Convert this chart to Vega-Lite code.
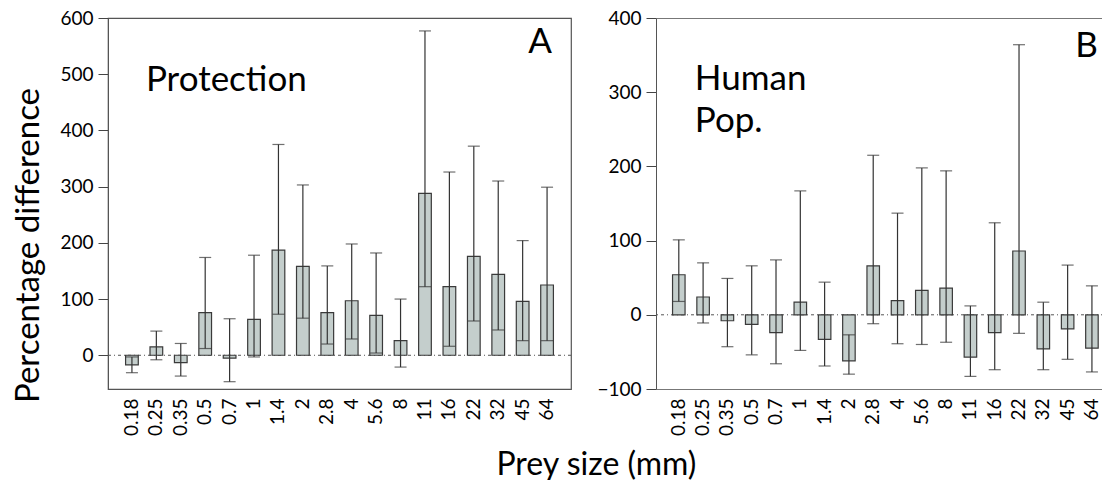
{
  "$schema": "https://vega.github.io/schema/vega-lite/v6.json",
  "background": "white",
  "padding": {"left": 12, "top": 8, "right": 0, "bottom": 2},
  "config": {
    "font": "Lato",
    "view": {"stroke": "#555", "strokeWidth": 1.2},
    "axis": {
      "labelFont": "Lato", "labelFontSize": 19, "labelColor": "#000",
      "titleFont": "Lato", "titleFontWeight": "normal", "titleColor": "#000",
      "tickColor": "#444", "domainColor": "#555", "grid": false
    }
  },
  "datasets": {
    "A": [
      {"size": "0.18", "mean": -17, "lo": -31, "hi": -3},
      {"size": "0.25", "mean": 15, "lo": -8, "hi": 43},
      {"size": "0.35", "mean": -13, "lo": -37, "hi": 21},
      {"size": "0.5", "mean": 76, "lo": 12, "hi": 174},
      {"size": "0.7", "mean": -5, "lo": -47, "hi": 65},
      {"size": "1", "mean": 64, "lo": -3, "hi": 178},
      {"size": "1.4", "mean": 187, "lo": 73, "hi": 375},
      {"size": "2", "mean": 158, "lo": 66, "hi": 303},
      {"size": "2.8", "mean": 76, "lo": 20, "hi": 159},
      {"size": "4", "mean": 97, "lo": 29, "hi": 198},
      {"size": "5.6", "mean": 71, "lo": 4, "hi": 182},
      {"size": "8", "mean": 26, "lo": -21, "hi": 100},
      {"size": "11", "mean": 288, "lo": 122, "hi": 577},
      {"size": "16", "mean": 122, "lo": 16, "hi": 326},
      {"size": "22", "mean": 176, "lo": 61, "hi": 372},
      {"size": "32", "mean": 144, "lo": 45, "hi": 310},
      {"size": "45", "mean": 96, "lo": 26, "hi": 204},
      {"size": "64", "mean": 125, "lo": 26, "hi": 299}
    ],
    "B": [
      {"size": "0.18", "mean": 54, "lo": 18, "hi": 101},
      {"size": "0.25", "mean": 24, "lo": -11, "hi": 70},
      {"size": "0.35", "mean": -8, "lo": -43, "hi": 49},
      {"size": "0.5", "mean": -13, "lo": -54, "hi": 66},
      {"size": "0.7", "mean": -24, "lo": -66, "hi": 74},
      {"size": "1", "mean": 17, "lo": -48, "hi": 167},
      {"size": "1.4", "mean": -33, "lo": -69, "hi": 44},
      {"size": "2", "mean": -62, "lo": -80, "hi": -27},
      {"size": "2.8", "mean": 66, "lo": -12, "hi": 215},
      {"size": "4", "mean": 19, "lo": -39, "hi": 137},
      {"size": "5.6", "mean": 33, "lo": -40, "hi": 198},
      {"size": "8", "mean": 36, "lo": -37, "hi": 194},
      {"size": "11", "mean": -57, "lo": -83, "hi": 12},
      {"size": "16", "mean": -24, "lo": -74, "hi": 124},
      {"size": "22", "mean": 86, "lo": -25, "hi": 364},
      {"size": "32", "mean": -46, "lo": -74, "hi": 17},
      {"size": "45", "mean": -19, "lo": -60, "hi": 67},
      {"size": "64", "mean": -45, "lo": -77, "hi": 39}
    ]
  },
  "title": {"text": "Prey size (mm)", "orient": "bottom", "anchor": "middle", "frame": "bounds", "dx": 38, "fontSize": 32, "fontWeight": "normal", "font": "Lato", "color": "#000", "offset": 14},
  "spacing": 23,
  "hconcat": [
    {
      "width": 463,
      "height": 371,
      "layer": [
        {
          "data": {"values": [{"z": 0}]},
          "mark": {"type": "rule", "color": "#555", "strokeWidth": 1, "strokeDash": [3, 3, 1, 3]},
          "encoding": {"y": {"field": "z", "type": "quantitative"}}
        },
        {
          "data": {"name": "A"},
          "mark": {"type": "bar", "fill": "#c4cecc", "stroke": "#3a3a3a", "strokeWidth": 1.2},
          "encoding": {
            "x": {"field": "size", "type": "nominal", "sort": null,
              "scale": {"paddingInner": 0.48, "paddingOuter": 0.72},
              "axis": {"title": null, "labelAngle": -90, "ticks": false, "labelPadding": 9, "domain": false}},
            "y": {"field": "mean", "type": "quantitative",
              "scale": {"domain": [-60, 600], "nice": false, "zero": false},
              "axis": {"values": [0, 100, 200, 300, 400, 500, 600], "title": "Percentage difference",
                "titleFontSize": 33, "titlePadding": 14, "titleY": 227, "tickSize": 10, "labelPadding": 5}}
          }
        },
        {
          "data": {"name": "A"},
          "mark": {"type": "rule", "color": "#333", "strokeWidth": 1.2},
          "encoding": {
            "x": {"field": "size", "type": "nominal", "sort": null},
            "y": {"field": "lo", "type": "quantitative"},
            "y2": {"field": "hi"}
          }
        },
        {
          "data": {"name": "A"},
          "mark": {"type": "tick", "color": "#333", "size": 12, "thickness": 1.2},
          "encoding": {
            "x": {"field": "size", "type": "nominal", "sort": null},
            "y": {"field": "lo", "type": "quantitative"}
          }
        },
        {
          "data": {"name": "A"},
          "mark": {"type": "tick", "color": "#333", "size": 12, "thickness": 1.2},
          "encoding": {
            "x": {"field": "size", "type": "nominal", "sort": null},
            "y": {"field": "hi", "type": "quantitative"}
          }
        },
        {
          "data": {"values": [{"size": "0.18", "v": 470, "label": "Protection"}]},
          "mark": {"type": "text", "fontSize": 35, "align": "left", "baseline": "alphabetic", "dx": 14, "color": "#000"},
          "encoding": {
            "x": {"field": "size", "type": "nominal", "sort": null},
            "y": {"field": "v", "type": "quantitative"},
            "text": {"field": "label"}
          }
        },
        {
          "data": {"values": [{"size": "64", "v": 538, "label": "A"}]},
          "mark": {"type": "text", "fontSize": 35, "align": "right", "baseline": "alphabetic", "dx": 5, "color": "#000"},
          "encoding": {
            "x": {"field": "size", "type": "nominal", "sort": null},
            "y": {"field": "v", "type": "quantitative"},
            "text": {"field": "label"}
          }
        }
      ]
    },
    {
      "width": 448,
      "height": 371,
      "view": {"stroke": null},
      "layer": [
        {
          "data": {"values": [{"z": 0}]},
          "mark": {"type": "rule", "color": "#555", "strokeWidth": 1, "strokeDash": [3, 3, 1, 3]},
          "encoding": {"y": {"field": "z", "type": "quantitative"}}
        },
        {
          "data": {"name": "B"},
          "mark": {"type": "bar", "fill": "#c4cecc", "stroke": "#3a3a3a", "strokeWidth": 1.2},
          "encoding": {
            "x": {"field": "size", "type": "nominal", "sort": null,
              "scale": {"paddingInner": 0.485, "paddingOuter": 0.46, "align": 0.74},
              "axis": {"title": null, "labelAngle": -90, "ticks": false, "labelPadding": 9, "domain": true, "domainColor": "#777", "domainWidth": 1.2}},
            "y": {"field": "mean", "type": "quantitative",
              "scale": {"domain": [-100, 400], "nice": false, "zero": false},
              "axis": {"values": [-100, 0, 100, 200, 300, 400], "title": null, "tickSize": 10, "labelPadding": 5,
                "grid": true, "gridColor": "#777", "gridWidth": 1.2,
                "gridOpacity": {"condition": {"test": "datum.value === 400", "value": 1}, "value": 0}}}
          }
        },
        {
          "data": {"name": "B"},
          "mark": {"type": "rule", "color": "#333", "strokeWidth": 1.2},
          "encoding": {
            "x": {"field": "size", "type": "nominal", "sort": null},
            "y": {"field": "lo", "type": "quantitative"},
            "y2": {"field": "hi"}
          }
        },
        {
          "data": {"name": "B"},
          "mark": {"type": "tick", "color": "#333", "size": 12, "thickness": 1.2},
          "encoding": {
            "x": {"field": "size", "type": "nominal", "sort": null},
            "y": {"field": "lo", "type": "quantitative"}
          }
        },
        {
          "data": {"name": "B"},
          "mark": {"type": "tick", "color": "#333", "size": 12, "thickness": 1.2},
          "encoding": {
            "x": {"field": "size", "type": "nominal", "sort": null},
            "y": {"field": "hi", "type": "quantitative"}
          }
        },
        {
          "data": {"values": [{"size": "0.18", "v": 303, "label": "Human"}, {"size": "0.18", "v": 246, "label": "Pop."}]},
          "mark": {"type": "text", "fontSize": 35, "align": "left", "baseline": "alphabetic", "dx": 16, "color": "#000"},
          "encoding": {
            "x": {"field": "size", "type": "nominal", "sort": null},
            "y": {"field": "v", "type": "quantitative"},
            "text": {"field": "label"}
          }
        },
        {
          "data": {"values": [{"size": "64", "v": 347, "label": "B"}]},
          "mark": {"type": "text", "fontSize": 35, "align": "right", "baseline": "alphabetic", "dx": 6, "color": "#000"},
          "encoding": {
            "x": {"field": "size", "type": "nominal", "sort": null},
            "y": {"field": "v", "type": "quantitative"},
            "text": {"field": "label"}
          }
        }
      ]
    }
  ]
}
